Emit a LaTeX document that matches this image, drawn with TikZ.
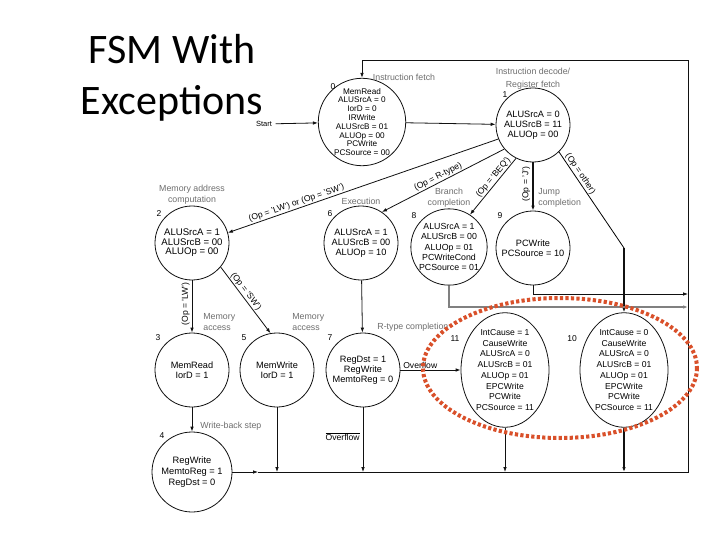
\documentclass[tikz,border=0pt]{standalone}
\usepackage{fontspec}
\setmainfont{Liberation Sans}
\newfontfamily\titlefont{Carlito}
\usetikzlibrary{arrows.meta,positioning,shapes.geometric,calc}
\definecolor{ink}{HTML}{111111}
\definecolor{phasegray}{HTML}{6E6E6E}
\definecolor{ring}{HTML}{D9502A}

\begin{document}
\begin{tikzpicture}[x=1pt,y=-1pt,line width=.8pt,
  st/.style={circle,draw=ink,minimum size=74pt,inner sep=0,align=center,
    font=\fontsize{9.2}{10.2}\selectfont},
  exc/.style={ellipse,draw=ink,minimum width=88pt,minimum height=104pt,inner sep=0,
    align=center,font=\fontsize{8.6}{10.7}\selectfont},
  num/.style={font=\fontsize{8.5}{10}\selectfont,inner sep=1pt},
  phase/.style={text=phasegray,align=center,font=\fontsize{8.8}{11}\selectfont,inner sep=1pt},
  cond/.style={font=\fontsize{8.6}{10}\selectfont,sloped,above,inner sep=1pt},
  vcond/.style={font=\fontsize{8.6}{10}\selectfont,rotate=90,anchor=south,inner sep=2pt},
  flow/.style={-{Latex[length=5pt,width=3.6pt]},draw=ink}]

\fill[white] (0,0) rectangle (720,540);
\useasboundingbox (0,0) rectangle (720,540);

\node[font=\titlefont\fontsize{42}{51}\selectfont,align=center] (title) at (172,78)
  {FSM With\\Exceptions};

% ============ FETCH / DECODE ============
\node[st,minimum size=83pt,font=\fontsize{8.2}{8.8}\selectfont] (s0) at (362,122)
  {MemRead\\ALUSrcA = 0\\IorD = 0\\IRWrite\\ALUSrcB = 01\\ALUOp = 00\\PCWrite\\PCSource = 00};
\node[st] (s1) at (533,125) {ALUSrcA = 0\\ALUSrcB = 11\\ALUOp = 00};
\node[num] (n0) at (333,87) {0};
\node[num] (n1) at (505,95) {1};
\node[phase] (lfetch) at (404,77) {Instruction fetch};
\node[phase,font=\fontsize{8.8}{13}\selectfont,above=-3pt of s1] (ldecode)
  {Instruction decode/\\Register fetch};
\node[font=\fontsize{7.5}{9}\selectfont] (start) at (264,124) {Start};

% ============ EXECUTE ============
\node[st,font=\fontsize{9.6}{9.6}\selectfont] (s2) at (192,243) {ALUSrcA = 1\\ALUSrcB = 00\\ALUOp = 00};
\node[st] (s6) at (361,243) {ALUSrcA = 1\\ALUSrcB = 00\\ALUOp = 10};
\node[st,font=\fontsize{8.8}{10.3}\selectfont] (s8) at (449,247)
  {ALUSrcA = 1\\ALUSrcB = 00\\ALUOp = 01\\PCWriteCond\\PCSource = 01};
\node[st] (s9) at (533,248) {PCWrite\\PCSource = 10};
\node[num] (n2) at (159,214) {2};
\node[num] (n6) at (330,214) {6};
\node[num] (n8) at (414,216) {8};
\node[num] (n9) at (500,216) {9};
\node[phase,above=0pt of s2] (laddr) {Memory address\\computation};
\node[phase,above=0pt of s6] (lexec) {Execution};
\node[phase,above=0pt of s8] (lbranch) {Branch\\completion};
\node[phase,align=left,anchor=west] (ljump) at (537,198) {Jump\\completion};

% ============ MEMORY / WRITE-BACK ============
\node[st] (s3) at (192,370) {MemRead\\IorD = 1};
\node[st] (s5) at (277,370) {MemWrite\\IorD = 1};
\node[st] (s7) at (363,370) {RegDst = 1\\RegWrite\\MemtoReg = 0};
\node[st,minimum size=80pt,font=\fontsize{9.3}{11}\selectfont] (s4) at (192,472)
  {RegWrite\\MemtoReg = 1\\RegDst = 0};
\node[num] (n3) at (158,338) {3};
\node[num] (n5) at (244,338) {5};
\node[num] (n7) at (330,338) {7};
\node[num] (n4) at (162,436) {4};
\node[phase,align=left,anchor=west] (lmem3) at (202,322) {Memory\\access};
\node[phase,align=left,anchor=west] (lmem5) at (291,322) {Memory\\access};
\node[phase,anchor=west] (lrtype) at (376,327) {R-type completion};
\node[phase,anchor=west] (lwb) at (199,426) {Write-back step};

% ============ EXCEPTIONS ============
\node[exc] (s11) at (505,370)
  {IntCause = 1\\CauseWrite\\ALUSrcA = 0\\ALUSrcB = 01\\ALUOp = 01\\EPCWrite\\PCWrite\\PCSource = 11};
\node[exc] (s10) at (624,370)
  {IntCause = 0\\CauseWrite\\ALUSrcA = 0\\ALUSrcB = 01\\ALUOp = 01\\EPCWrite\\PCWrite\\PCSource = 11};
\node[num] (n11) at (455,339) {11};
\node[num] (n10) at (572,339) {10};

% ============ TRANSITIONS ============
\coordinate (oth) at (624,248);
\coordinate (r9) at (688,294);
\coordinate (r8) at (688,307);
\coordinate (m4) at (258,472);
\coordinate (br) at (688,472);
\coordinate (tl) at (362,60);

\draw[flow] (start) -- (s0);
\draw[flow] (s0) -- (s1);
\draw[flow] (s1.202) -- node[cond,pos=.74] {(Op = 'LW') or (Op = 'SW')} (s2.16);
\draw[flow] (s1.220) -- node[cond,pos=.52] {(Op = R-type)} (s6.56);
\draw[flow] (s1.243) -- node[cond,pos=.4] {(Op = 'BEQ')} (s8.57);
\draw[flow,line width=1.6pt] (s1) -- node[vcond,pos=.45] {(Op = 'J')} (s9);
\draw (s1.314) -- node[cond,pos=.26] {(Op = other)} (oth);
\draw[flow,line width=1.5pt] (oth) -- (s10.north);

\draw[flow] (s2) -- node[vcond,pos=.45] {(Op = 'LW')} (s3);
\draw[flow] (s2.320) -- node[cond,pos=.42] {(Op = 'SW')} (s5.100);
\draw[flow] (s6) -- (s7);
\draw[flow] (s3) -- (s4);
\draw[flow] (s7) -- node[pos=.33,above,inner sep=1.5pt,font=\fontsize{8.6}{10}\selectfont]
  {Overflow} (s11);

\draw[flow] (s9) |- (r9);
\draw[flow,draw=gray,line width=1.6pt] (s8) |- (r8);

\draw[flow] (s4) -- (m4);
\draw[flow] (m4) -- (br) |- (tl) -- (s0);
\draw[flow] (s5) -- (s5 |- br);
\draw[flow] (s7) -- node[pos=.45,left,inner sep=3pt,font=\fontsize{8.6}{10}\selectfont]
  {$\overline{\mbox{Overflow}}$} (s7 |- br);
\draw[flow] (s11) -- (s11 |- br);
\draw[flow,line width=1.4pt] (s10) -- (s10 |- br);

% highlight round the exception states
\coordinate (hl) at (560,368);
\draw[ring,line width=4pt,dash pattern=on 3.2pt off 2.3pt] (hl) ellipse [x radius=137, y radius=70];

\end{tikzpicture}
\end{document}
